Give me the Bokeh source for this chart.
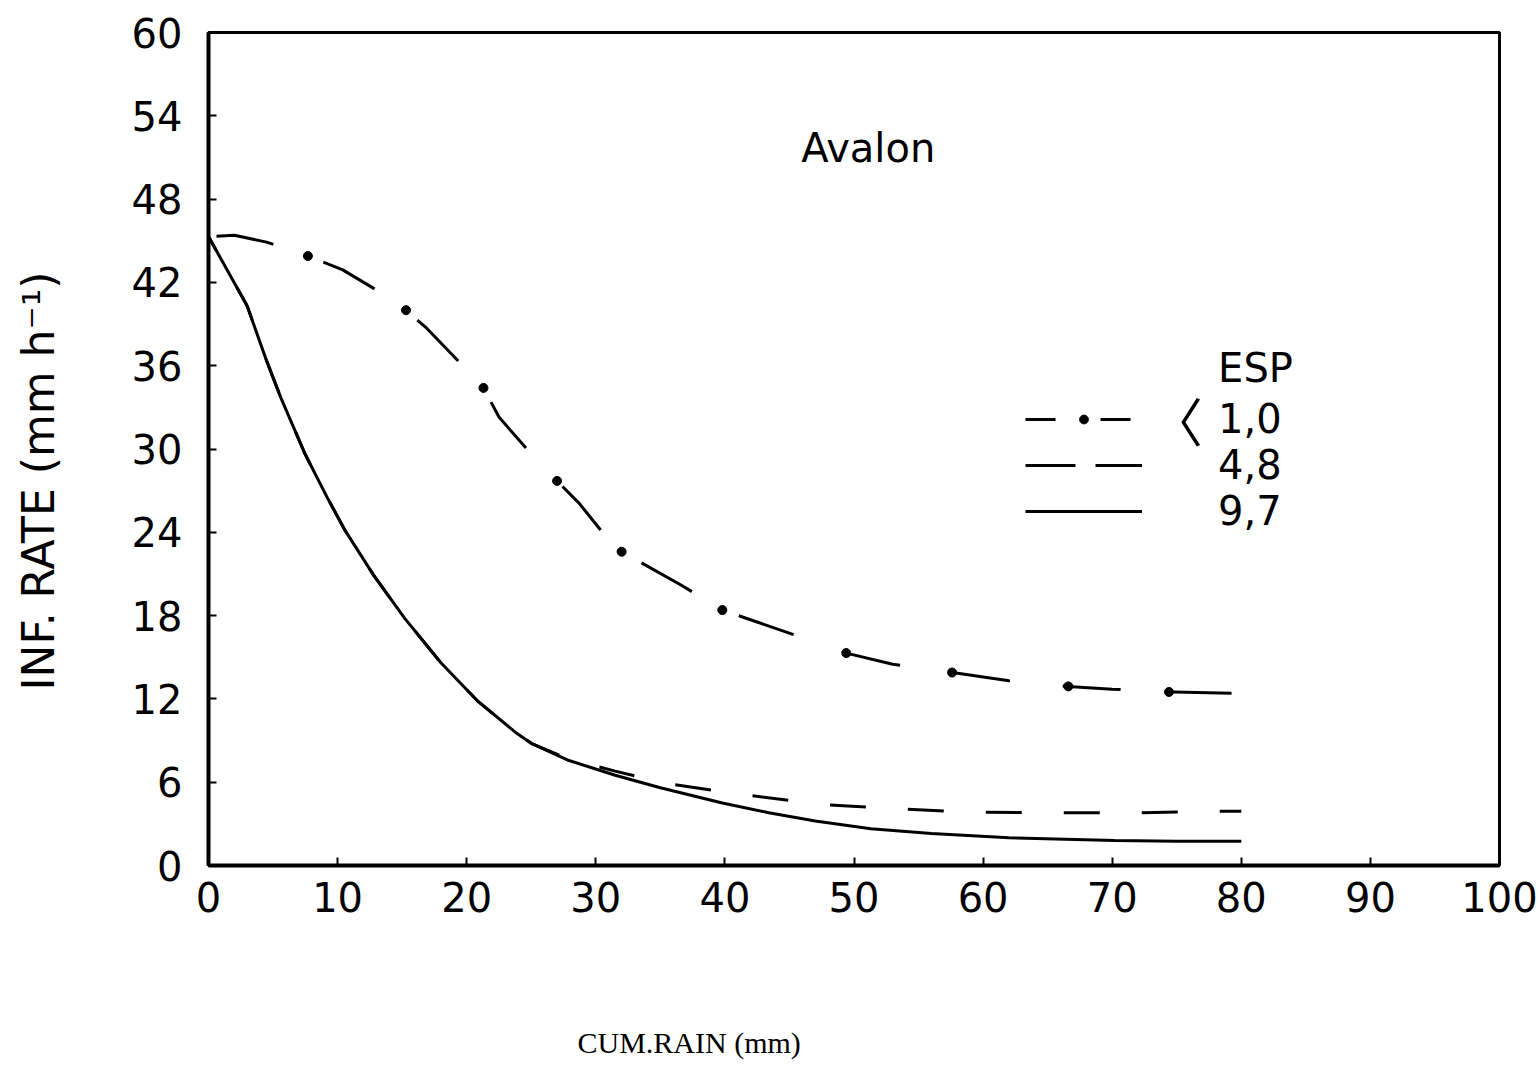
import math
from bokeh.plotting import figure
from bokeh.models import FixedTicker, Label, Legend, LegendItem, Range1d, ColumnDataSource, Title
from bokeh.embed import file_html
from bokeh.resources import INLINE

# ---------------- data ----------------
x_ticks = [0, 10, 20, 30, 40, 50, 60, 70, 80, 90, 100]
y_ticks = [0, 6, 12, 18, 24, 30, 36, 42, 48, 54, 60]

series_labels = ["1,0", "4,8", "9,7"]

esp10_x = [0, 2.0, 4.5, 7.7, 10.4, 14.0, 15.3, 16.9, 19.8, 21.3, 22.5, 25.5, 27.0, 28.7,
           30.6, 32.0, 36.6, 39.8, 45.1, 49.4, 53.0, 57.6, 62.0, 66.6, 70.0, 74.4, 80.0]
esp10_y = [45.3, 45.4, 44.9, 43.9, 42.9, 40.9, 40.0, 38.7, 35.9, 34.4, 32.3, 29.1, 27.7, 26.1,
           23.9, 22.6, 20.2, 18.4, 16.7, 15.3, 14.5, 13.9, 13.3, 12.9, 12.7, 12.5, 12.4]
esp10_dot_x = [7.7, 15.3, 21.3, 27.0, 32.0, 39.8, 49.4, 57.6, 66.6, 74.4]
esp10_dot_y = [43.9, 40.0, 34.4, 27.7, 22.6, 18.4, 15.3, 13.9, 12.9, 12.5]

esp48_x = [0, 1.5, 3.0, 4.4, 5.6, 7.5, 9.2, 10.6, 12.8, 15.2, 18.0, 20.9, 23.9, 25.0,
           27.8, 31.5, 35.5, 41.5, 47.5, 54.0, 59.0, 65.5, 72.0, 78.0, 80.0]
esp48_y = [45.3, 42.8, 40.3, 36.6, 33.7, 29.6, 26.5, 24.1, 20.9, 17.8, 14.6, 11.8, 9.5, 8.8,
           7.7, 6.8, 5.9, 5.1, 4.4, 4.05, 3.85, 3.8, 3.8, 3.9, 3.9]

esp97_x = [0, 1.5, 3.0, 4.4, 5.6, 7.5, 9.2, 10.6, 12.8, 15.2, 18.0, 20.9, 23.9, 25.0,
           27.8, 31.5, 35.0, 39.8, 43.4, 47.0, 51.3, 56.0, 62.0, 70.2, 75.0, 80.0]
esp97_y = [45.3, 42.8, 40.3, 36.6, 33.7, 29.6, 26.5, 24.1, 20.9, 17.8, 14.6, 11.8, 9.5, 8.8,
           7.6, 6.5, 5.6, 4.5, 3.8, 3.2, 2.65, 2.3, 2.0, 1.8, 1.75, 1.75]

# ---------------- figure ----------------
p = figure(width=1540, height=1092, output_backend="svg", toolbar_location=None,
           x_range=Range1d(0, 100), y_range=Range1d(0, 60),
           min_border_left=208, min_border_right=41, min_border_top=32, min_border_bottom=227)
p.xgrid.visible = False
p.ygrid.visible = False
p.background_fill_color = "white"
p.border_fill_color = "white"
p.outline_line_color = "black"
p.outline_line_width = 3
p.outline_line_alpha = 1.0

p.xaxis.ticker = FixedTicker(ticks=x_ticks)
p.yaxis.ticker = FixedTicker(ticks=y_ticks)
for ax in (p.xaxis[0], p.yaxis[0]):
    ax.axis_line_width = 4
    ax.axis_line_color = "black"
    ax.major_tick_in = 8
    ax.major_tick_out = 0
    ax.major_tick_line_width = 2
    ax.major_tick_line_color = "black"
    ax.minor_tick_line_color = None
    ax.major_label_text_font = "DejaVu Sans"
    ax.major_label_text_font_size = "40px"
    ax.major_label_text_color = "black"
p.xaxis.major_label_standoff = 16
p.yaxis.major_label_standoff = 26

# ---------------- curves ----------------
r48 = p.line(esp48_x, esp48_y, line_color="black", line_width=3, line_dash="36 42",
             line_dash_offset=20)
r97 = p.line(esp97_x, esp97_y, line_color="black", line_width=3)
r10 = p.line(esp10_x, esp10_y, line_color="black", line_width=3, line_dash="58 53",
             line_dash_offset=103)
p.scatter(esp10_dot_x, esp10_dot_y, size=9, color="black")

# legend key renderers (a single NaN point each: nothing drawn in the plot area)
nan_src = ColumnDataSource(data=dict(x=[float("nan")], y=[float("nan")]))
k10_line = p.line("x", "y", source=nan_src, line_color="black", line_width=3, line_dash="30 45")
k10_dot = p.scatter("x", "y", source=nan_src, size=9, color="black")
k48_line = p.line("x", "y", source=nan_src, line_color="black", line_width=3, line_dash="50 20")
k97_line = p.line("x", "y", source=nan_src, line_color="black", line_width=3)

legend = Legend(items=[
    LegendItem(label=series_labels[0], renderers=[k10_line, k10_dot]),
    LegendItem(label=series_labels[1], renderers=[k48_line]),
    LegendItem(label=series_labels[2], renderers=[k97_line]),
], location=(817, 331), orientation="vertical",
    background_fill_alpha=0, border_line_alpha=0,
    label_text_font="DejaVu Sans", label_text_font_size="40px", label_text_color="black",
    glyph_width=117, glyph_height=22, label_height=44,
    label_standoff=76, spacing=0, padding=0, margin=0)
p.add_layout(legend, "center")

# ---------------- texts ----------------
p.add_layout(Label(x=51.1, y=51.7, text="Avalon", text_align="center", text_baseline="middle",
                   text_font="DejaVu Sans", text_font_size="40px", text_color="black"))
p.add_layout(Label(x=81.1, y=35.8, text="ESP", text_align="center", text_baseline="middle",
                   text_font="DejaVu Sans", text_font_size="40px", text_color="black"))
p.add_layout(Label(x=75.0, y=32.1, text="〈", text_align="center", text_baseline="middle",
                   text_font="Noto Sans CJK SC", text_font_size="52px", text_color="black"))

# axis titles; the extra empty lines only widen the title panels so that the
# text sits further from the axes, as in the reference
p.add_layout(Title(text="INF. RATE (mm h⁻¹)\n", align="left", offset=175, standoff=24,
                   vertical_align="top",
                   text_font="DejaVu Sans", text_font_size="44px", text_font_style="normal",
                   text_color="black"), "left")
p.add_layout(Title(text="\n\n\nCUM.RAIN (mm)", align="left", offset=369, standoff=20,
                   vertical_align="bottom",
                   text_font="Liberation Serif", text_font_size="30px", text_font_style="normal",
                   text_color="black"), "below")

open("out.html", "w").write(file_html(p, INLINE))
